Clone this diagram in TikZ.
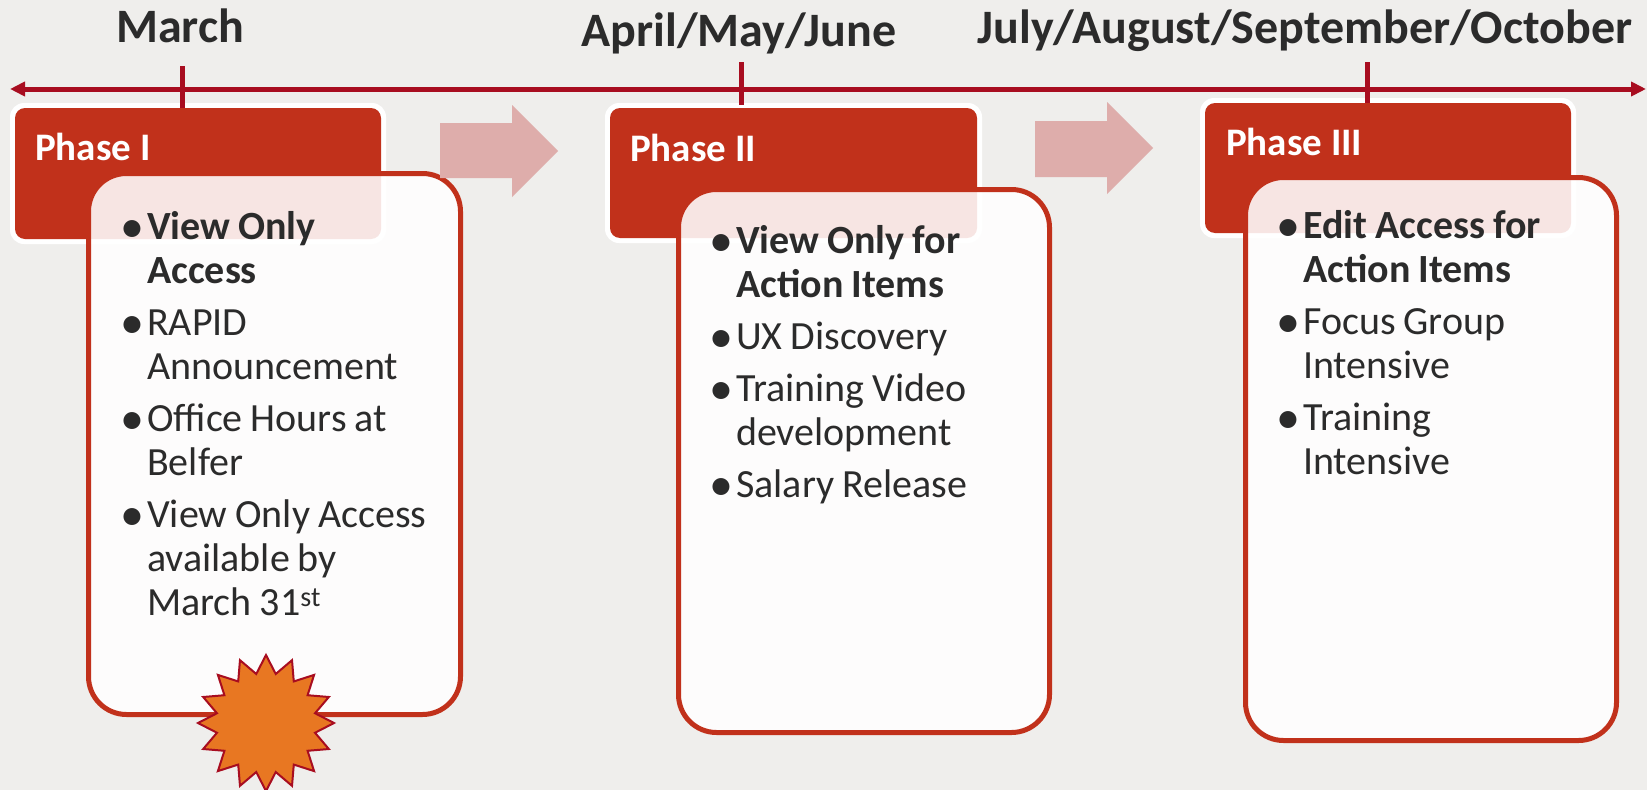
\documentclass[tikz,border=0pt]{standalone}
\usepackage{fontspec}
\setmainfont{Carlito}
\usetikzlibrary{arrows.meta}

\definecolor{slidebg}{RGB}{239,238,236}
\definecolor{phasered}{RGB}{193,49,27}
\definecolor{linered}{RGB}{168,13,32}
\definecolor{arrowpink}{RGB}{222,173,171}
\definecolor{burstorange}{RGB}{232,119,34}
\definecolor{inktext}{RGB}{43,43,43}

\newcommand{\phaseitem}[1]{\par\noindent\llap{\makebox[30pt][c]{\raisebox{-3.4pt}{\fontsize{48}{44}\selectfont •}}}\strut#1}

\begin{document}
\begin{tikzpicture}[x=1pt, y=-1pt,
    halo/.style={fill=white, rounded corners=14pt},
    header/.style={fill=phasered, rounded corners=10pt},
    card/.style={fill=white, fill opacity=0.88, draw=phasered, line width=5pt, rounded corners=38pt},
    nextarrow/.style={fill=arrowpink},
    tick/.style={draw=linered, line width=5pt},
    month/.style={anchor=base, text=inktext, font=\fontsize{48}{52}\selectfont\bfseries},
    phasename/.style={anchor=base west, inner sep=0, text=white, font=\fontsize{39}{44}\selectfont\bfseries},
    itemlist/.style={anchor=north west, inner sep=0, text width=320pt, align=left, text=inktext,
      font=\fontsize{40}{44}\selectfont, execute at begin node={\setlength{\parskip}{8pt}\spaceskip=8pt\relax}}]
\useasboundingbox (0,0) rectangle (1647,790);
    \fill[slidebg] (0,0) rectangle (1647,790);

    % phase headers
    \fill[halo] (10,103) rectangle (386,244);
    \fill[header] (15,108) rectangle (381,239);
    \fill[halo] (605,103) rectangle (982,243);
    \fill[header] (610,108) rectangle (977,238);
    \fill[halo] (1200,98) rectangle (1576,238);
    \fill[header] (1205,103) rectangle (1571,233);

    % cards
    \draw[card] (88.5,173.5) rectangle (460.5,714.5);
    \draw[card] (678.5,189.5) rectangle (1049.5,732.5);
    \draw[card] (1245.5,177.5) rectangle (1616.5,740.5);

    \fill[nextarrow] (440,123) -- (512,123) -- (512,105) -- (558,151) -- (512,197) -- (512,178) -- (440,178) -- cycle;
    \fill[nextarrow] (1035,121) -- (1107,121) -- (1107,102) -- (1153,148) -- (1107,194) -- (1107,177) -- (1035,177) -- cycle;

    % timeline
    \coordinate (tl-west) at (10,89);
    \coordinate (tl-east) at (1646,89);
    \draw[linered, line width=5pt, {Triangle[length=15pt,width=14pt]}-{Triangle[length=15pt,width=14pt]}] (tl-west) -- (tl-east);
    \coordinate (march-top) at (182,66);
    \coordinate (march-foot) at (182,108);
    \coordinate (spring-top) at (741,62);
    \coordinate (spring-foot) at (741,105);
    \coordinate (autumn-top) at (1367,62);
    \coordinate (autumn-foot) at (1367,103);
    \draw[tick] (march-top) -- (march-foot);
    \draw[tick] (spring-top) -- (spring-foot);
    \draw[tick] (autumn-top) -- (autumn-foot);

    \node[month] (march) at (180,42) {March};
    \node[month] (spring) at (739,46) {April/May/June};
    \node[month] (autumn) at (1305,43) {July/August/September/October};

    \node[phasename] (phase1) at (35,160) {Phase I};
    \node[phasename] (phase2) at (630,161) {Phase II};
    \node[phasename] (phase3) at (1226,155) {Phase III};

    \node[itemlist] (items1) at (147,187) {%
      \phaseitem{\textbf{View Only}\newline\textbf{Access}}
      \phaseitem{RAPID\newline Announcement}
      \phaseitem{Office Hours at\newline Belfer}
      \phaseitem{View Only Access\newline available by\newline March 31\textsuperscript{st}}};
    \node[itemlist] (items2) at (736,201) {%
      \phaseitem{\textbf{View Only for}\newline\textbf{Action Items}}
      \phaseitem{UX Discovery}
      \phaseitem{Training Video\newline development}
      \phaseitem{Salary Release}};
    \node[itemlist] (items3) at (1303,186) {%
      \phaseitem{\textbf{Edit Access for}\newline\textbf{Action Items}}
      \phaseitem{Focus Group\newline Intensive}
      \phaseitem{Training\newline Intensive}};

    \draw[fill=burstorange, draw=linered, line width=2pt] plot[samples at={0,...,31}]
      ({266+cos(\x*11.25)*(mod(\x,2)==0 ? 68 : 50)}, {723+sin(\x*11.25)*(mod(\x,2)==0 ? 68 : 50)}) -- cycle;
\end{tikzpicture}
\end{document}
